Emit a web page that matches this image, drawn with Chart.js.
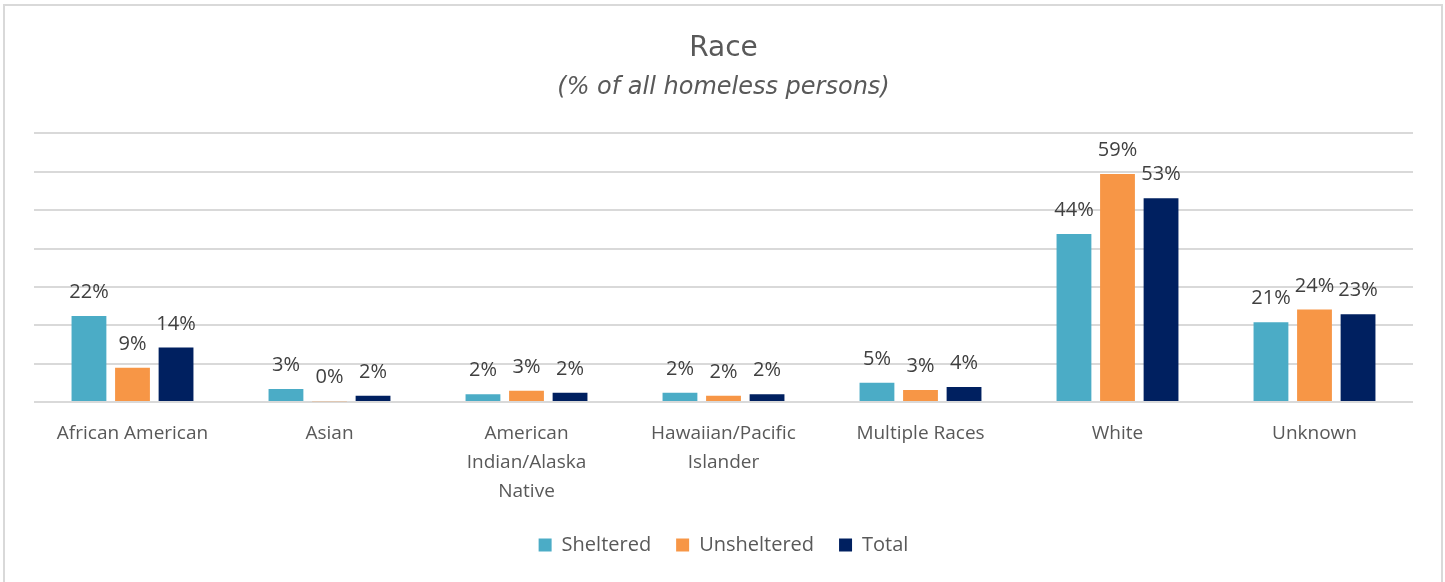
<!DOCTYPE html>
<html>
<head>
<meta charset="utf-8">
<script src="https://cdn.jsdelivr.net/npm/chart.js@4"></script>
<style>
  body { margin: 0; background: #fff; }
  #wrap { position: relative; width: 1445px; height: 582px; overflow: hidden; }
  #frame { position: absolute; left: 3px; top: 4px; width: 1436px; height: 620px; border: 2px solid #d9d9d9; pointer-events: none; }
</style>
</head>
<body>
<div id="wrap">
  <canvas id="race" width="1445" height="582"></canvas>
  <div id="frame"></div>
</div>
<script>
// categories (multi-line where the original wraps)
const categories = [
  'African American',
  'Asian',
  ['American', 'Indian/Alaska', 'Native'],
  ['Hawaiian/Pacific', 'Islander'],
  'Multiple Races',
  'White',
  'Unknown'
];

// % of all homeless persons
const sheltered   = [22.4, 3.4, 2.0, 2.4, 5.0, 43.8, 20.8];
const unsheltered = [8.9, 0.2, 2.9, 1.6, 3.1, 59.4, 24.1];
const total       = [14.2, 1.6, 2.4, 2.0, 3.9, 53.1, 22.9];

// labels above the bars
const valueLabels = {
  id: 'valueLabels',
  afterDatasetsDraw(chart) {
    const ctx = chart.ctx;
    ctx.save();
    ctx.font = '20px "Open Sans"';
    ctx.fillStyle = '#404040';
    ctx.textAlign = 'center';
    ctx.textBaseline = 'alphabetic';
    chart.data.datasets.forEach((ds, i) => {
      chart.getDatasetMeta(i).data.forEach((bar, j) => {
        ctx.fillText(Math.round(ds.data[j]) + '%', bar.x, bar.y - 18);
      });
    });
    ctx.restore();
  }
};

const ctx = document.getElementById('race');

new Chart(ctx, {
  type: 'bar',
  data: {
    labels: categories,
    datasets: [
      { label: 'Sheltered', data: sheltered, backgroundColor: '#4BACC6' },
      { label: 'Unsheltered', data: unsheltered, backgroundColor: '#F79646' },
      { label: 'Total', data: total, backgroundColor: '#002060' }
    ]
  },
  options: {
    responsive: false,
    animation: false,
    categoryPercentage: 0.663,
    barPercentage: 0.8,
    layout: { padding: { left: 34, right: 32, top: 0, bottom: 17 } },
    plugins: {
      title: {
        display: true,
        text: 'Race',
        color: '#595959',
        font: { family: 'DejaVu Sans', size: 28, weight: 'normal' },
        padding: { top: 32, bottom: 8 }
      },
      subtitle: {
        display: true,
        text: '(% of all homeless persons)',
        color: '#595959',
        font: { family: 'DejaVu Sans', size: 24, style: 'italic' },
        padding: { top: 0, bottom: 31 }
      },
      legend: {
        position: 'bottom',
        labels: {
          color: '#595959',
          font: { family: 'Open Sans', size: 20 },
          boxWidth: 13,
          boxHeight: 13,
          padding: 25
        }
      },
      tooltip: { enabled: false }
    },
    scales: {
      x: {
        grid: { display: false, drawTicks: false },
        border: { display: false },
        ticks: {
          color: '#595959',
          font: { family: 'Open Sans', size: 19, lineHeight: '29px' },
          padding: 17,
          maxRotation: 0,
          autoSkip: false
        },
        afterFit(scale) { scale.height -= 13; }
      },
      y: {
        min: 0,
        max: 70,
        ticks: { display: false, stepSize: 10 },
        grid: { color: '#d9d9d9', lineWidth: 2, drawTicks: false },
        border: { display: false }
      }
    }
  },
  plugins: [valueLabels]
});
</script>
</body>
</html>
